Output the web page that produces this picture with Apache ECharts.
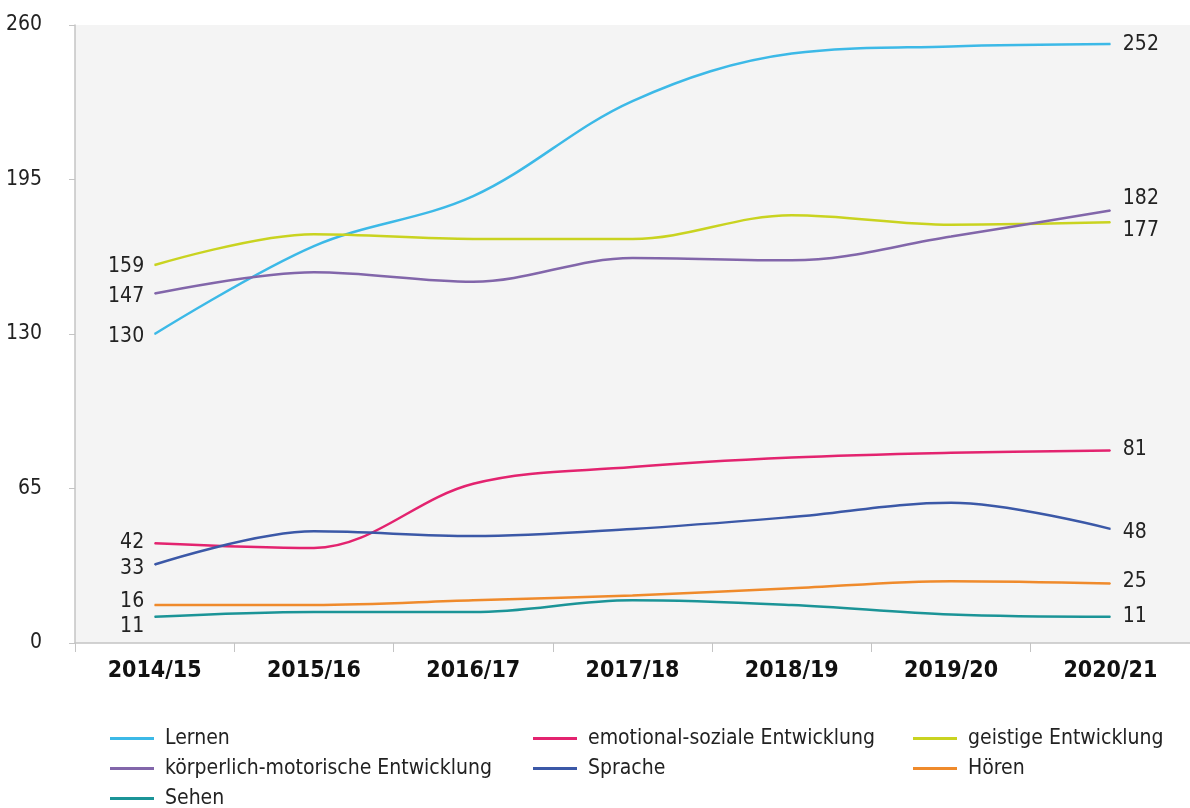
<!DOCTYPE html>
<html>
<head>
<meta charset="utf-8">
<script src="https://cdn.jsdelivr.net/npm/echarts@6/dist/echarts.min.js"></script>
<style>
  html, body { margin: 0; padding: 0; background: #fff; }
  #chart { width: 1190px; height: 808px; }
</style>
</head>
<body>
<div id="chart"></div>
<script>
const years = ["2014/15", "2015/16", "2016/17", "2017/18", "2018/19", "2019/20", "2020/21"];
const yTicks = [0, 65, 130, 195, 260];

const lernen = [130, 167, 188, 228, 248, 251, 252];
const emotional = [42, 40, 67, 74, 78, 80, 81];
const geistig = [159, 172, 170, 170, 180, 176, 177];
const koerperlich = [147, 156, 152, 162, 161, 171, 182];
const sprache = [33, 47, 45, 48, 53, 59, 48];
const hoeren = [16, 16, 18, 20, 23, 26, 25];
const sehen = [11, 13, 13, 18, 16, 12, 11];

const FONT = '"DejaVu Sans Condensed", "DejaVu Sans", sans-serif';

// first/last label nudges (px) so neighbouring labels do not collide
const seriesDefs = [
  { name: "Lernen", data: lernen, color: "#3cb9e7", first: [0, 3], last: [0, 1] },
  { name: "emotional-soziale Entwicklung", data: emotional, color: "#e3236f", first: [0, -1], last: [0, -1] },
  { name: "geistige Entwicklung", data: geistig, color: "#c9d320", first: [0, 1], last: [0, 8] },
  { name: "körperlich-motorische Entwicklung", data: koerperlich, color: "#8266aa", first: [0, 3], last: [0, -12] },
  { name: "Sprache", data: sprache, color: "#3b58a7", first: [0, 4], last: [0, 4] },
  { name: "Hören", data: hoeren, color: "#ef8a2b", first: [0, -3], last: [0, -2] },
  { name: "Sehen", data: sehen, color: "#1b9497", first: [0, 10], last: [0, 0] }
];

// only the first and last point carry a value label
function pointData(s) {
  const values = s.data;
  const last = values.length - 1;
  return values.map((v, i) => {
    if (i === 0) return { value: v, label: { show: true, position: "left", distance: 10, offset: s.first } };
    if (i === last) return { value: v, label: { show: true, position: "right", distance: 12, offset: s.last } };
    return v;
  });
}

const legendText = { fontFamily: FONT, fontSize: 21, color: "#222", padding: [0, 0, 0, 6] };
function legendCol(left, names) {
  return {
    orient: "vertical", left: left, top: 728, height: 120, padding: 0, itemGap: 9,
    itemWidth: 44, itemHeight: 3, icon: "rect",
    textStyle: legendText, data: names
  };
}

const chart = echarts.init(document.getElementById("chart"));
chart.setOption({
  animation: false,
  textStyle: { fontFamily: FONT },
  grid: {
    left: 75, top: 25, bottom: 165, width: 1120,
    show: true, backgroundColor: "#f4f4f4", borderWidth: 0
  },
  legend: [
    legendCol(110, ["Lernen", "körperlich-motorische Entwicklung", "Sehen"]),
    legendCol(533, ["emotional-soziale Entwicklung", "Sprache"]),
    legendCol(913, ["geistige Entwicklung", "Hören"])
  ],
  xAxis: {
    type: "category",
    data: years,
    boundaryGap: true,
    axisLine: { lineStyle: { color: "#c4c4c4", width: 1.5 } },
    axisTick: { show: true, length: 9, lineStyle: { color: "#c4c4c4" } },
    axisLabel: { fontFamily: FONT, fontSize: 23, fontWeight: "bold", color: "#111", margin: 17 },
    splitLine: { show: false }
  },
  yAxis: {
    type: "value",
    min: yTicks[0], max: yTicks[yTicks.length - 1], interval: 65,
    axisLine: { show: true, lineStyle: { color: "#c4c4c4", width: 1.5 } },
    axisTick: { show: true, length: 6, lineStyle: { color: "#c4c4c4" } },
    axisLabel: { fontFamily: FONT, fontSize: 21, color: "#222", margin: 33 },
    splitLine: { show: false }
  },
  series: seriesDefs.map(s => ({
    name: s.name,
    type: "line",
    smooth: 0.35,
    symbol: "circle",
    symbolSize: 1,
    showSymbol: true,
    data: pointData(s),
    color: s.color,
    itemStyle: { color: s.color },
    lineStyle: { width: 2.5, color: s.color },
    label: { show: false, fontFamily: FONT, fontSize: 21, color: "#222" }
  }))
});
</script>
</body>
</html>
